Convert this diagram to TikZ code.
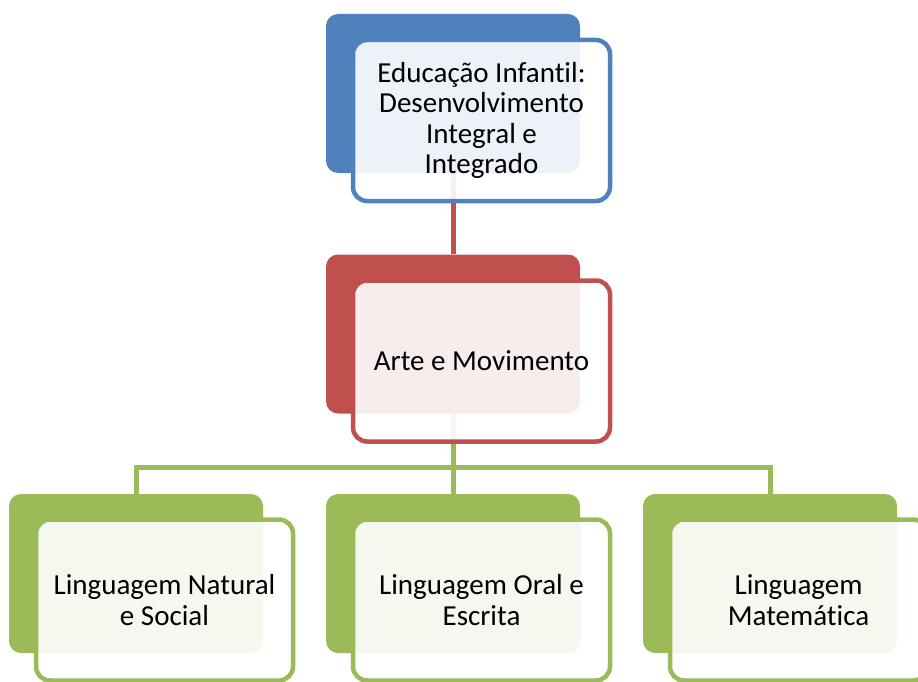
\documentclass[tikz,border=0pt]{standalone}
\usepackage{fontspec}
\setmainfont{Carlito}[RawFeature={-liga;-dlig;-clig}]
\usetikzlibrary{positioning,backgrounds}
\definecolor{accentblue}{HTML}{4F81BD}
\definecolor{accentred}{HTML}{C0504D}
\definecolor{accentgreen}{HTML}{9BBB59}
\tikzset{
  backbox/.style={rectangle, rounded corners=12pt, fill=#1,
    minimum width=254pt, minimum height=159pt, inner sep=0pt},
  frontbox/.style={rectangle, rounded corners=14pt, draw=#1, line width=4.5pt,
    fill=white, fill opacity=0.9, text opacity=1, draw opacity=1,
    minimum width=257pt, minimum height=161pt, inner sep=0pt, align=center,
    font=\fontsize{29}{30.5}\selectfont},
  link/.style={draw=#1, line width=5pt}
}
\begin{document}
\begin{tikzpicture}[x=1pt,y=-1pt]
  \useasboundingbox (0,0) rectangle (918,682);
  \clip (0,0) rectangle (918,682);
  % top level
  \node[backbox=accentblue] (eduback) at (453,93.5) {};
  \node[frontbox=accentblue] (edu) at ([shift={(28.5,27)}]eduback.center)
    {Educação Infantil:\\Desenvolvimento\\Integral e\\Integrado};
  % middle level
  \node[backbox=accentred] (arteback) at (453,334) {};
  \node[frontbox=accentred] (arte) at ([shift={(28.5,27)}]arteback.center)
    {Arte e Movimento};
  % bottom level
  \node[backbox=accentgreen] (natback) at (136,573.5) {};
  \node[frontbox=accentgreen] (nat) at ([shift={(28.5,26.5)}]natback.center)
    {Linguagem Natural\\e Social};
  \node[backbox=accentgreen] (oralback) at (453,573.5) {};
  \node[frontbox=accentgreen] (oral) at ([shift={(28.5,26.5)}]oralback.center)
    {Linguagem Oral e\\Escrita};
  \node[backbox=accentgreen] (matback) at (770,573.5) {};
  \node[frontbox=accentgreen] (mat) at ([shift={(28.5,26.5)}]matback.center)
    {Linguagem\\Matemática};
  % connectors
  \begin{scope}[on background layer]
    \draw[link=accentred] (eduback.south) -- (arteback.north);
    \coordinate (split) at (453,467);
    \draw[link=accentgreen] (arteback.south) -- (split);
    \draw[link=accentgreen] (split) -| (natback.north);
    \draw[link=accentgreen] (split) -- (oralback.north);
    \draw[link=accentgreen] (split) -| (matback.north);
  \end{scope}
\end{tikzpicture}
\end{document}
